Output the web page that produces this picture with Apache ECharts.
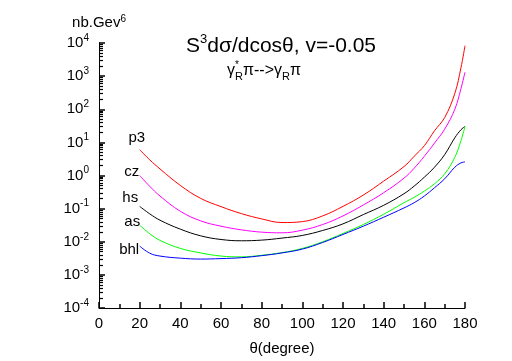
<!DOCTYPE html>
<html>
<head>
<meta charset="utf-8">
<title>S3 dsigma/dcos</title>
<script src="https://cdn.jsdelivr.net/npm/echarts@6/dist/echarts.min.js"></script>
<style>
	html, body { margin: 0; padding: 0; background: #ffffff; }
	#main { width: 512px; height: 361px; }
</style>
</head>
<body>
<div id="main"></div>
<script>
	// theta (degree)
	var theta = [20, 25, 30, 40, 50, 60, 70, 80, 90, 100, 110, 120, 130, 140, 150, 155, 160, 165, 170, 175, 178, 180];

	var p3 = [6.03, 2.95, 1.58, 0.501, 0.204, 0.115, 0.0708, 0.049, 0.038, 0.0405, 0.0603, 0.117, 0.257, 0.676, 1.86, 3.8, 7.94, 22.4, 56.2, 302, 1778, 8318];
	var cz = [1.0, 0.468, 0.240, 0.0832, 0.0427, 0.0295, 0.0229, 0.0195, 0.0186, 0.0224, 0.0331, 0.0603, 0.129, 0.302, 0.832, 1.66, 3.8, 9.55, 25.1, 100, 417, 1318];
	var hs = [0.117, 0.0692, 0.0447, 0.024, 0.0151, 0.0117, 0.0107, 0.0112, 0.0129, 0.0155, 0.0219, 0.0347, 0.0661, 0.126, 0.282, 0.479, 0.891, 1.78, 4.27, 13.8, 24, 30.2];
	var as = [0.0316, 0.0174, 0.011, 0.0063, 0.0046, 0.0037, 0.0035, 0.0039, 0.0047, 0.0063, 0.01, 0.0178, 0.0331, 0.0676, 0.151, 0.219, 0.339, 0.562, 1.12, 3.55, 11.2, 30.2];
	var bhl = [0.0074, 0.0045, 0.0037, 0.0032, 0.0030, 0.0031, 0.0033, 0.0038, 0.0046, 0.006, 0.0095, 0.0166, 0.0295, 0.055, 0.105, 0.151, 0.24, 0.427, 0.794, 1.78, 2.4, 2.57];

	var seriesNames = ['p3', 'cz', 'hs', 'as', 'bhl'];
	var seriesValues = [p3, cz, hs, as, bhl];
	var seriesColors = ['#ff0000', '#ff00ff', '#000000', '#00ff00', '#0000ff'];
	// offset of the curve name next to the first point
	var nameOffsets = [[6, -12], [0, -4], [-1, -9], [1, -3], [0, 4]];

	var yMin = 1e-4, yMax = 1e4;

	var font = 'Liberation Sans, Arial, Helvetica, sans-serif';
	var tickColor = '#000';

	// log minor ticks 2..9 in each decade (in log10 units for the helper axis)
	var minorTicks = [];
	for (var n = -4; n < 4; n++) {
		for (var k = 2; k <= 9; k++) {
			minorTicks.push(n + Math.log10(k));
		}
	}

	var series = seriesNames.map(function (name, s) {
		var data = theta.map(function (t, i) {
			return [t, seriesValues[s][i]];
		});
		return {
			name: name,
			type: 'line',
			smooth: 0.4,
			showSymbol: false,
			xAxisIndex: 0,
			yAxisIndex: 0,
			lineStyle: { color: seriesColors[s], width: 1 },
			itemStyle: { color: seriesColors[s] },
			// curve name beside the first point
			markPoint: {
				symbol: 'circle',
				symbolSize: 1,
				itemStyle: { color: 'rgba(0,0,0,0)' },
				label: {
					show: true,
					formatter: name,
					position: 'left',
					distance: 0,
					offset: nameOffsets[s],
					color: '#000',
					fontSize: 15,
					fontFamily: font
				},
				data: [{ coord: data[0] }]
			},
			data: data
		};
	});

	// empty series so the helper axis is kept
	series.push({
		type: 'line',
		xAxisIndex: 0,
		yAxisIndex: 1,
		data: []
	});

	var myChart = echarts.init(document.getElementById('main'));
	myChart.setOption({
		animation: false,
		title: [{
			left: 181,
			top: 28,
			text: '{n|S}{s|3}{n|dσ/dcosθ, v=-0.05}',
			textStyle: {
				rich: {
					n: { fontSize: 21, fontFamily: font, fontWeight: 'normal', color: '#000', lineHeight: 26 },
					s: { fontSize: 13, fontFamily: font, fontWeight: 'normal', color: '#000', verticalAlign: 'top' }
				}
			}
		}, {
			left: 222,
			top: 55,
			text: '{g|γ}{st|*}{r|R}{g|π-->γ}{r|R}{g|π}',
			textStyle: {
				rich: {
					g: { fontSize: 16, fontFamily: font, fontWeight: 'normal', color: '#000', lineHeight: 22 },
					st: { fontSize: 10, fontFamily: font, fontWeight: 'normal', color: '#000', verticalAlign: 'top', width: 0 },
					r: { fontSize: 11, fontFamily: font, fontWeight: 'normal', color: '#000', verticalAlign: 'bottom' }
				}
			}
		}],
		grid: {
			left: 99,
			right: 47,
			top: 43,
			bottom: 50
		},
		xAxis: {
			type: 'value',
			min: 0,
			max: 180,
			interval: 20,
			name: 'θ(degree)',
			nameLocation: 'middle',
			nameGap: 33,
			nameTextStyle: { fontSize: 15, fontFamily: font, color: '#000' },
			axisLine: { show: true, onZero: false, lineStyle: { color: '#000', width: 1 } },
			axisTick: { show: true, inside: true, length: 6, lineStyle: { color: tickColor, width: 1.5 } },
			minorTick: { show: true, splitNumber: 2, length: 4, lineStyle: { color: tickColor, width: 1.5 } },
			axisLabel: {
				fontSize: 15,
				fontFamily: font,
				color: '#000',
				margin: 8
			},
			splitLine: { show: false }
		},
		yAxis: [{
			type: 'log',
			logBase: 10,
			min: yMin,
			max: yMax,
			splitNumber: 8,
			name: '{n|nb.Gev}{s|6}',
			nameLocation: 'end',
			nameGap: 11,
			nameTextStyle: {
				rich: {
					n: { fontSize: 15, fontFamily: font, color: '#000', lineHeight: 18 },
					s: { fontSize: 10, fontFamily: font, color: '#000', verticalAlign: 'top' }
				}
			},
			axisLine: { show: true, onZero: false, lineStyle: { color: '#000', width: 1 } },
			axisTick: { show: true, inside: true, length: 6, lineStyle: { color: tickColor, width: 1.5 } },
			axisLabel: {
				margin: 10,
				formatter: function (v) {
					var e = Math.round(Math.log10(v));
					return '{b|10}{e|' + e + '}';
				},
				rich: {
					b: { fontSize: 15, fontFamily: font, color: '#000', lineHeight: 20 },
					e: { fontSize: 10, fontFamily: font, color: '#000', verticalAlign: 'top' }
				}
			},
			splitLine: { show: false }
		}, {
			// helper axis only for the log minor ticks
			type: 'value',
			min: -4,
			max: 4,
			position: 'left',
			axisLine: { show: true, onZero: false, lineStyle: { color: '#000', width: 1 } },
			axisLabel: { show: false },
			axisTick: {
				show: true,
				inside: true,
				length: 4,
				customValues: minorTicks,
				lineStyle: { color: tickColor, width: 1.2 }
			},
			splitLine: { show: false }
		}],
		series: series
	});
</script>
</body>
</html>
